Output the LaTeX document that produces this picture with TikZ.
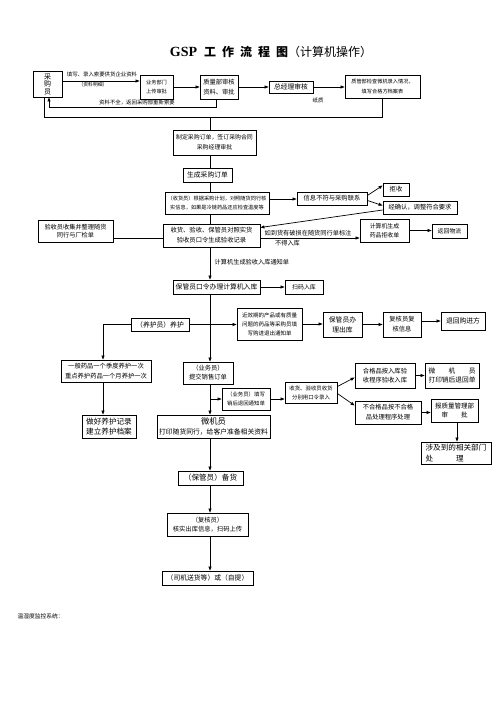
\documentclass[tikz,border=0pt]{standalone}
\usepackage{fontspec}
\setmainfont{Noto Sans CJK SC}
\newfontfamily\latinserif{Liberation Serif}
\usetikzlibrary{arrows.meta}
\tikzset{
  flowbox/.style = {draw=black, line width=0.8pt, align=center,
                    inner xsep=1pt, inner ysep=0.5pt},
  ftiny/.style   = {flowbox, font=\fontsize{5.2}{9}\selectfont},
  fsmall/.style  = {flowbox, font=\fontsize{5.9}{9.5}\selectfont},
  fmid/.style    = {flowbox, font=\fontsize{6.3}{10}\selectfont},
  fbig/.style    = {flowbox, font=\fontsize{6.8}{10}\selectfont},
  fhuge/.style   = {flowbox, font=\fontsize{7.6}{10.5}\selectfont},
  link/.style    = {draw=black, line width=0.7pt},
  flow/.style    = {link, -{Triangle[length=4pt, width=3pt]}},
  exlab/.style   = {font=\fontsize{5.4}{7}\selectfont, inner sep=0.5pt},
}

\begin{document}
\begin{tikzpicture}[x=1pt, y=-1pt]
    \useasboundingbox (0,0) rectangle (503,711);
    \coordinate (spine) at (210,0);

    % ---------- title ---------------------------------------------------
    \node[font=\fontsize{12}{14}\selectfont] (title) at (271,52)
      {{\latinserif\fontsize{14}{14}\selectfont\bfseries GSP}\hspace{7pt}\textbf{工\hspace{6pt}作\hspace{6pt}流\hspace{6pt}程\hspace{6pt}图}（计算机操作）};

    % ---------- purchasing row -----------------------------------------
    \node[fhuge, font=\fontsize{7}{7.6}\selectfont, minimum width=29pt, minimum height=26pt] (cgy) at (47.5,84)
      {采\\购\\员};
    \node[ftiny, minimum width=33pt, minimum height=24pt] (ywbm) at (156.5,87) {业务部门\\上传审批};
    \node[fmid, minimum width=38pt, minimum height=24pt] (zlb) at (219,87) {质量部审核\\资料、审批};
    \node[fbig, minimum width=44pt, minimum height=12pt] (zjl) at (291,87) {总经理审核};
    \node[ftiny, font=\fontsize{5.2}{10}\selectfont, minimum width=75pt, minimum height=23pt] (zgb) at (382.5,86.5)
      {质管部检查微机录入情况，\\填写合格方档案表};

    \draw[flow] ([yshift=3pt]cgy.east) -- ([yshift=3pt]cgy.east -| ywbm.west);
    \node[exlab] (lbtx) at (102,74) {填写、录入索要供货企业资料};
    \node[exlab, font=\fontsize{4.8}{6}\selectfont] (lbmx) at (93,85) {（资料明细）};
    \draw[flow] (ywbm.east) -- (ywbm.east -| zlb.west);
    \draw[flow] (zlb.east) -- (zlb.east -| zjl.west);
    \draw[flow] (zjl.east) -- (zjl.east -| zgb.west);
    \node[exlab] (lbzz) at (318,100) {纸质};
    \draw[flow] ([xshift=-3pt]zlb.south) -- ++(0,8) -| ([xshift=1.5pt]cgy.south);
    \node[exlab] (lbfh) at (137,102) {资料不全，返回采购部重新索要};
    \draw[link] (zgb.south) -- ++(0,19) -| ([xshift=-3.5pt]cgy.south);

    % ---------- ordering and receiving ---------------------------------
    \node[fsmall, font=\fontsize{5.9}{10}\selectfont, minimum width=83pt, minimum height=25pt] (zdcg) at (214.5,142.5)
      {制定采购订单，签订采购合同\\采购经理审批};
    \node[fbig, minimum width=49pt, minimum height=14pt] (scdd) at (207.5,175) {生成采购订单};
    \node[ftiny, minimum width=104pt, minimum height=22pt] (shy) at (217,203)
      {（收货员）根据采购计划，对照随货同行核\\实信息，如果是冷链药品还应检查温度等};
    \node[fmid, minimum width=70pt, minimum height=13pt] (xxbf) at (332,198.5) {信息不符与采购联系};
    \node[fmid, minimum width=26pt, minimum height=13pt] (js) at (396,189.5) {拒收};
    \node[fmid, minimum width=74pt, minimum height=13pt] (jqr) at (420,207.5) {经确认，调整符合要求};
    \node[fmid, minimum width=97pt, minimum height=23pt] (shys) at (211.5,235.5)
      {收货、验收、保管员对照实货\\验收员口令生成验收记录};
    \node[fmid, font=\fontsize{6.2}{8.5}\selectfont, minimum width=75pt, minimum height=22pt] (ysy) at (75.5,231)
      {验收员收集并整理随货\\同行与厂检单};
    \node[fsmall, minimum width=49pt, minimum height=23pt] (jsj) at (384.5,230.5) {计算机生成\\药品拒收单};
    \node[fsmall, minimum width=35pt, minimum height=14pt] (thwl) at (449.5,231) {返回物流};

    \draw[link] (zdcg.north -| spine) -- ++(0,-13);
    \draw[link] (zdcg.south -| spine) -- (scdd.north -| spine);
    \draw[link] (scdd.south -| spine) -- (shy.north -| spine);
    \draw[link] (shy.south -| spine) -- (shys.north -| spine);
    \draw[flow] ([yshift=4pt]shy.east) -- ([yshift=4pt]shy.east -| xxbf.west);
    \draw[flow] ([yshift=3pt]xxbf.east) -- ([yshift=4pt]js.west);
    \draw[flow] ([yshift=-2pt]xxbf.east) -- ([yshift=2pt]jqr.west);
    \draw[flow] ([yshift=-2.5pt]jqr.west) -- ([yshift=8pt]shys.east);
    \draw[link] ([yshift=-7pt]ysy.east) -- ([yshift=-7pt]ysy.east -| shys.west);
    \draw[flow] ([yshift=-2.5pt]shys.east) -- ([yshift=-2.5pt]shys.east -| jsj.west);
    \node[exlab, font=\fontsize{6.2}{7}\selectfont] (lbps) at (308,233) {如到货有破损在随货同行单标注};
    \node[exlab, font=\fontsize{6.2}{7}\selectfont] (lbbd) at (287.5,243) {不得入库};
    \draw[flow] (jsj.east) -- (jsj.east -| thwl.west);

    % ---------- storage --------------------------------------------------
    \node[fbig, minimum width=87pt, minimum height=14pt] (bgy) at (216.5,287) {保管员口令办理计算机入库};
    \node[fsmall, minimum width=38pt, minimum height=14pt] (smrk) at (304,287) {扫码入库};
    \draw[flow] (shys.south -| spine) -- (bgy.north -| spine);
    \node[exlab, anchor=west, font=\fontsize{6.2}{7}\selectfont] (lbtz) at (214,262) {计算机生成验收入库通知单};
    \draw[flow] (bgy.east) -- (bgy.east -| smrk.west);

    % ---------- maintenance and return to supplier -----------------------
    \node[fbig, minimum width=58pt, minimum height=13pt] (yhy) at (160,324.5) {（养护员）养护};
    \node[ftiny, font=\fontsize{5.5}{9}\selectfont, minimum width=65pt, minimum height=32pt] (jxq) at (269.5,324)
      {近效期的产品或有质量\\问题的药品等采购员填\\写购进退出通知单};
    \node[fbig, minimum width=39pt, minimum height=25pt] (bgyck) at (342.5,324.5) {保管员办\\理出库};
    \node[fmid, minimum width=38pt, minimum height=25pt] (fhyxx) at (402,324.5) {复核员复\\核信息};
    \node[fbig, minimum width=44pt, minimum height=18pt] (thgj) at (463,321) {退回购进方};
    \node[fmid, minimum width=90pt, minimum height=22pt] (ybyp) at (106,371)
      {一般药品一个季度养护一次\\重点养护药品一个月养护一次};
    \node[fmid, font=\fontsize{6.3}{9}\selectfont, minimum width=50pt, minimum height=22pt] (ywy) at (208,373)
      {（业务员）\\提交销售订单};
    \node[fhuge, minimum width=54pt, minimum height=23pt] (yhjl) at (109,426.5) {做好养护记录\\建立养护档案};

    \draw[flow] (bgy.south -| spine) -- (ywy.north -| spine);
    \draw[flow] (yhy.east) -- (yhy.east -| jxq.west);
    \draw[flow] (yhy.west) -| ([xshift=-3pt]ybyp.north);
    \draw[flow] (jxq.east) -- (jxq.east -| bgyck.west);
    \draw[flow] (bgyck.east) -- (bgyck.east -| fhyxx.west);
    \draw[flow] (fhyxx.east |- thgj.west) -- (thgj.west);
    \draw[flow] ([xshift=-3pt]ybyp.south) -- ([xshift=-3pt]ybyp.south |- yhjl.north);

    % ---------- sales returns ---------------------------------------------
    \node[ftiny, font=\fontsize{5.4}{9.5}\selectfont, minimum width=48pt, minimum height=22pt] (ywytx) at (246,399)
      {（业务员）填写\\销后退回通知单};
    \node[ftiny, font=\fontsize{5.4}{9}\selectfont, minimum width=52pt, minimum height=21pt] (shysy) at (311,392.5)
      {收货、验收员收货\\分别用口令录入};
    \node[fmid, font=\fontsize{6.3}{9}\selectfont, minimum width=60pt, minimum height=25pt] (hgp) at (385,375.5)
      {合格品按入库验\\收程序验收入库};
    \node[fbig, font=\fontsize{6.7}{8.5}\selectfont, minimum width=54pt, minimum height=25pt] (wjyth) at (452,375.5)
      {微　　机　　员\\打印销后退回单};
    \node[fmid, minimum width=66pt, minimum height=23pt] (bhgp) at (388,412.5)
      {不合格品按不合格\\品处理程序处理};
    \node[fmid, font=\fontsize{6.5}{9}\selectfont, minimum width=47pt, minimum height=23pt] (bzl) at (454.5,410.5)
      {报质量管理部\\审　　批};
    \node[fhuge, align=left, minimum width=70pt, minimum height=22pt] (sjbm) at (456,453)
      {涉及到的相关部门\\处　　　理};
    \node[fbig, minimum width=113pt, minimum height=23pt] (wjy) at (213.5,426.5)
      {{\fontsize{8.3}{10}\selectfont 微机员}\\打印随货同行，给客户准备相关资料};

    \draw[flow] (ywy.south -| spine) -- (wjy.north -| spine);
    \draw[flow] (spine |- ywytx.west) -- (ywytx.west);
    \draw[flow] (ywytx.east) -- (ywytx.east -| shysy.west);
    \draw[flow] ([yshift=6pt]shysy.east) -- ([yshift=-2pt]hgp.west);
    \draw[flow] ([yshift=-1pt]shysy.east) -- ([yshift=7pt]bhgp.west);
    \draw[flow] (hgp.east) -- (hgp.east -| wjyth.west);
    \draw[flow] (bhgp.east) -- (bhgp.east -| bzl.west);
    \draw[flow] ([xshift=2.5pt]bzl.south) -- ([xshift=2.5pt]bzl.south |- sjbm.north);

    % ---------- dispatch ----------------------------------------------------
    \node[fhuge, minimum width=65pt, minimum height=14pt] (bgbh) at (210.5,478) {（保管员）备货};
    \node[fmid, font=\fontsize{6.3}{9}\selectfont, minimum width=81pt, minimum height=23pt] (fhck) at (207.5,524.5)
      {（复核员）\\核实出库信息，扫码上传};
    \node[fbig, minimum width=91pt, minimum height=14pt] (sjsh) at (207.5,578) {（司机送货等）或（自提）};

    \draw[flow] (wjy.south -| spine) -- (bgbh.north -| spine);
    \draw[flow] (bgbh.south -| spine) -- (fhck.north -| spine);
    \draw[flow] (fhck.south -| spine) -- (sjsh.north -| spine);

    \node[exlab, anchor=west, font=\fontsize{5.75}{7}\selectfont] (lbws) at (17,616) {温湿度监控系统：};

\end{tikzpicture}
\end{document}
